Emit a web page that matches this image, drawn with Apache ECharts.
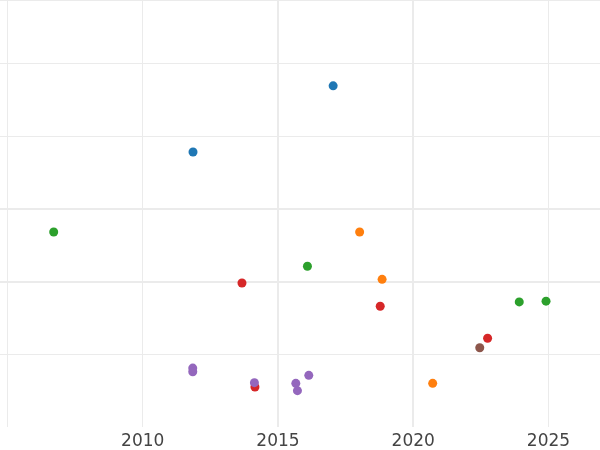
<!DOCTYPE html>
<html>
<head>
<meta charset="utf-8">
<style>html,body{margin:0;padding:0;background:#fff;}#c{width:600px;height:450px;}</style>
<script src="https://cdn.jsdelivr.net/npm/echarts@6/dist/echarts.min.js"></script>
</head>
<body>
<div id="c"></div>
<script>
// Data (x = year, y = unlabeled value)
const blueX = [2017.04, 2011.86];
const blueY = [4.69, 3.78];
const orangeX = [2018.02, 2018.85, 2020.72];
const orangeY = [2.68, 2.03, 0.60];
const greenX = [2006.71, 2016.09, 2023.92, 2024.91];
const greenY = [2.68, 2.21, 1.72, 1.73];
const redX = [2013.67, 2018.78, 2022.75, 2014.15];
const redY = [1.98, 1.66, 1.22, 0.55];
const purpleX = [2011.85, 2011.85, 2014.13, 2015.66, 2015.72, 2016.14];
const purpleY = [0.81, 0.76, 0.61, 0.60, 0.50, 0.71];
const brownX = [2022.46];
const brownY = [1.09];
const xGridValues = [2005, 2010, 2015, 2020, 2025];
const xTickLabels = [2010, 2015, 2020, 2025];
const xStrongValues = [2015, 2020];

const colors = ['#1f77b4', '#ff7f0e', '#2ca02c', '#d62728', '#9467bd', '#8c564b'];
const seriesXY = [[blueX, blueY], [orangeX, orangeY], [greenX, greenY], [redX, redY], [purpleX, purpleY], [brownX, brownY]];

const gridColor = '#ebebeb';
const xMin = 2004.725, xMax = 2026.905;

const chart = echarts.init(document.getElementById('c'), null, {renderer: 'canvas'});
chart.setOption({
  animation: false,
  grid: {left: 0, right: 0, top: 0, bottom: 23, containLabel: false},
  xAxis: [{
    type: 'value', min: xMin, max: xMax,
    axisLine: {show: false},
    axisTick: {show: false, customValues: xGridValues},
    axisLabel: {customValues: xTickLabels, color: '#444', fontSize: 17, fontFamily: 'DejaVu Sans', margin: 6, formatter: v => String(v)},
    splitLine: {show: true, lineStyle: {color: gridColor, width: 1}}
  }, {
    type: 'value', min: xMin, max: xMax, position: 'bottom',
    axisLine: {show: false},
    axisTick: {show: false, customValues: xStrongValues},
    axisLabel: {show: false, customValues: xStrongValues},
    splitLine: {show: true, lineStyle: {color: gridColor, width: 2}}
  }],
  yAxis: [{
    type: 'value', min: 0, max: 5.87, interval: 1,
    axisLine: {show: false}, axisTick: {show: false}, axisLabel: {show: false},
    splitLine: {show: true, showMinLine: false, lineStyle: {color: gridColor, width: 1}}
  }, {
    type: 'value', min: 0, max: 5.87,
    axisLine: {show: false}, axisTick: {show: false, customValues: [2, 3]}, axisLabel: {show: false, customValues: [2, 3]},
    splitLine: {show: true, lineStyle: {color: gridColor, width: 2}}
  }],
  series: seriesXY.map((s, i) => ({
    type: 'scatter',
    symbolSize: 9,
    itemStyle: {color: colors[i], opacity: 1},
    data: s[0].map((x, j) => [x, s[1][j]])
  }))
});
</script>
</body>
</html>
